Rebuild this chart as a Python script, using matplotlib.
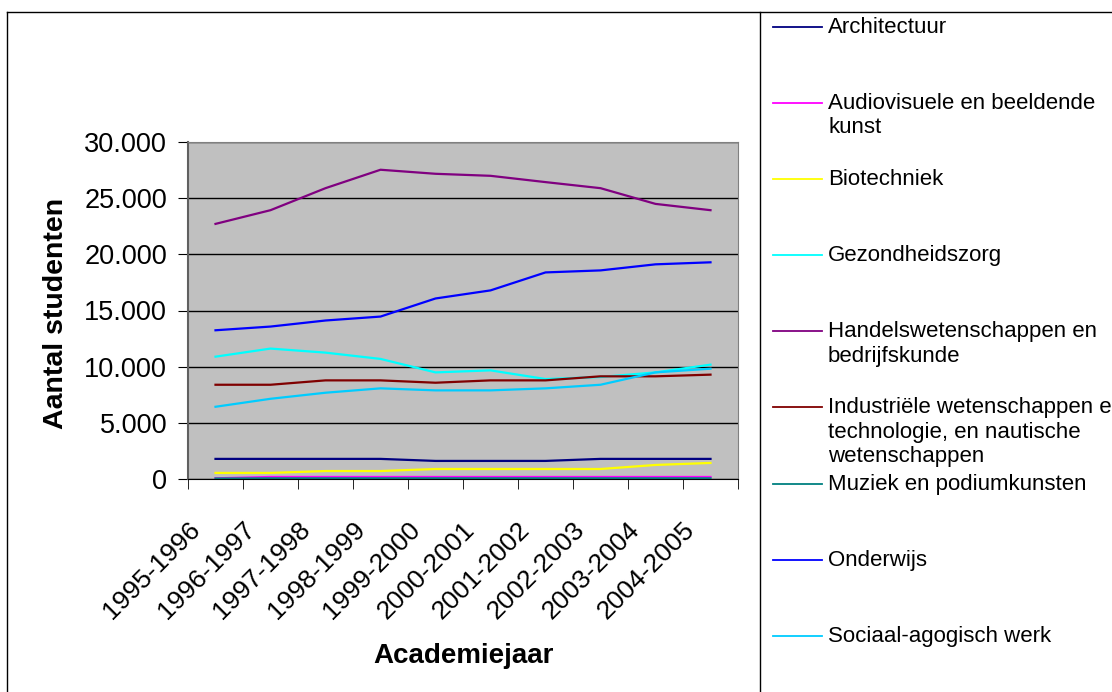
import matplotlib
matplotlib.use("Agg")
import matplotlib.pyplot as plt
import matplotlib.transforms as mtransforms
from matplotlib.lines import Line2D

plt.rcParams["font.family"] = ["Liberation Sans", "DejaVu Sans"]

jaren = ["1995-1996", "1996-1997", "1997-1998", "1998-1999", "1999-2000",
         "2000-2001", "2001-2002", "2002-2003", "2003-2004", "2004-2005"]

architectuur = [1790, 1790, 1790, 1790, 1610, 1610, 1610, 1790, 1790, 1790]
audiovisueel = [60, 180, 180, 180, 180, 180, 180, 180, 180, 180]
biotechniek = [540, 540, 710, 710, 890, 890, 890, 890, 1250, 1430]
gezondheid = [10890, 11610, 11250, 10690, 9490, 9670, 8900, 9080, 9490, 10180]
handel = [22710, 23930, 25890, 27530, 27170, 26990, 26430, 25890, 24490, 23930]
industrie = [8390, 8390, 8780, 8780, 8570, 8780, 8780, 9140, 9140, 9290]
muziek = [40, 60, 60, 60, 60, 60, 60, 60, 60, 60]
onderwijs = [13240, 13570, 14110, 14460, 16070, 16790, 18390, 18570, 19110, 19290]
sociaal = [6430, 7140, 7680, 8070, 7890, 7890, 8070, 8390, 9490, 9820]

labels = ["Architectuur", "Audiovisuele en beeldende\nkunst", "Biotechniek",
          "Gezondheidszorg", "Handelswetenschappen en\nbedrijfskunde",
          "Industriële wetenschappen en\ntechnologie, en nautische\nwetenschappen",
          "Muziek en podiumkunsten", "Onderwijs", "Sociaal-agogisch werk"]
series = [architectuur, audiovisueel, biotechniek, gezondheid, handel,
          industrie, muziek, onderwijs, sociaal]
colors = ["#000080", "#FF00FF", "#FFFF00", "#00FFFF", "#800080",
          "#800000", "#008080", "#0000FF", "#00CCFF"]

W, H = 1112, 692
fig = plt.figure(figsize=(W / 100, H / 100), dpi=100)
ax = fig.add_axes([188 / W, 1 - 479 / H, 550 / W, 337 / H])
ax.set_facecolor("#C0C0C0")

x = list(range(len(jaren)))
for vals, c in zip(series, colors):
    ax.plot(x, vals, color=c, lw=1.6, solid_joinstyle="round")

ax.set_xlim(-0.5, len(jaren) - 0.5)
ax.set_ylim(0, 30000)
ax.set_yticks(range(0, 30001, 5000))
ax.set_yticklabels([f"{v:,}".replace(",", ".") for v in range(0, 30001, 5000)],
                   fontsize=19.5)
ax.grid(axis="y", color="black", lw=1)
ax.set_axisbelow(True)

# category labels, rotated and set below the axis like the original
ax.set_xticks(x)
ax.set_xticklabels([])
ax.tick_params(axis="x", length=0)
shift = mtransforms.ScaledTranslation(-28 / 100, -38 / 100, fig.dpi_scale_trans)
for i, j in enumerate(jaren):
    ax.text(i, 0, j, transform=ax.get_xaxis_transform() + shift, rotation=45,
            ha="right", va="top", rotation_mode="anchor", fontsize=19)

ax.set_xticks([i - 0.5 for i in range(len(jaren) + 1)], minor=True)
ax.tick_params(axis="x", which="minor", length=7, direction="out", color="black")
ax.tick_params(axis="y", length=7, direction="out", color="black", pad=8)

for s in ["top", "right"]:
    ax.spines[s].set_color("#808080")
ax.spines["left"].set_color("#606060")
ax.spines["left"].set_linewidth(1.5)
ax.spines["bottom"].set_color("black")

ax.set_ylabel("Aantal studenten", fontsize=20.5, fontweight="bold", va="center")
ax.yaxis.set_label_coords(-0.24, 0.4926)
ax.set_xlabel("Academiejaar", fontsize=20, fontweight="bold", va="center")
ax.xaxis.set_label_coords(0.5, -0.525)

# outer chart border and legend frame
fig.add_artist(Line2D([7 / W, 7 / W], [0, 1 - 12 / H], color="black", lw=1,
                      transform=fig.transFigure))
fig.add_artist(Line2D([7 / W, 1], [1 - 12 / H, 1 - 12 / H], color="black", lw=1,
                      transform=fig.transFigure))
fig.add_artist(Line2D([760 / W, 760 / W], [0, 1 - 12 / H], color="black", lw=1,
                      transform=fig.transFigure))

# legend entries
for i, (lab, c) in enumerate(zip(labels, colors)):
    yy = 27 + i * 76.1
    fig.add_artist(Line2D([773 / W, 822 / W], [1 - yy / H, 1 - yy / H], color=c,
                          lw=1.3, transform=fig.transFigure))
    fig.text(828 / W, 1 - (yy - 10) / H, lab, fontsize=16, ha="left", va="top",
             linespacing=1.2)

fig.savefig("out.png", dpi=100)
